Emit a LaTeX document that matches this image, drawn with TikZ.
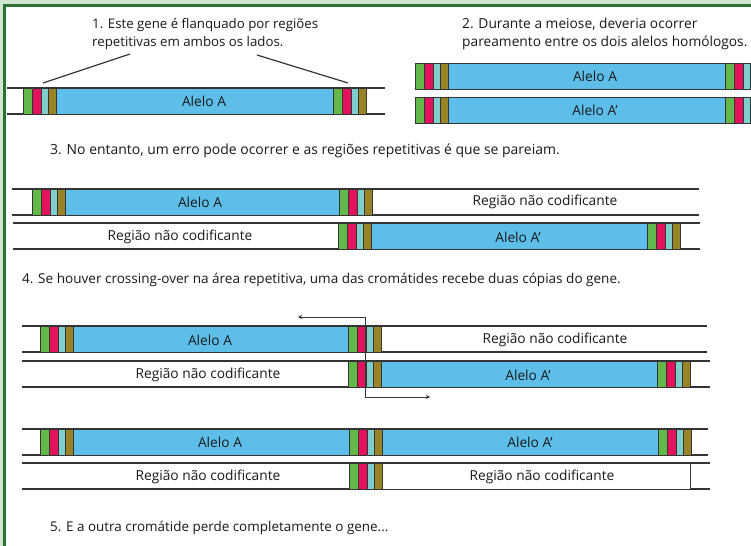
\documentclass[tikz,border=0pt]{standalone}
\usepackage{fontspec}
\setmainfont{Open Sans}
\usetikzlibrary{arrows.meta}
\definecolor{frgreen}{RGB}{44,110,52}
\definecolor{frlight}{RGB}{208,229,208}
\definecolor{gnblue}{RGB}{94,190,234}
\definecolor{rpgreen}{RGB}{98,184,72}
\definecolor{rppink}{RGB}{226,18,92}
\definecolor{rpcyan}{RGB}{126,206,206}
\definecolor{rpolive}{RGB}{152,132,38}
\definecolor{lnedge}{RGB}{52,52,52}
\tikzset{
  strand/.style={draw=lnedge, line width=1.1pt},
  genebox/.style={draw=lnedge, fill=gnblue, line width=0.9pt},
  gapbox/.style={draw=lnedge, fill=white, line width=0.9pt},
  genelabel/.style={font=\fontsize{13.8}{15}\selectfont, text=black!90, inner sep=0pt},
  steptext/.style={font=\fontsize{13.3}{18}\selectfont, text=black!90, anchor=west,
    align=left, inner sep=0pt},
  pointer/.style={draw=lnedge, line width=1.2pt},
  xover/.style={{Stealth[length=4bp,width=4bp]}-{Stealth[length=4bp,width=4bp]},
    draw=lnedge, line width=0.8pt},
  repunit/.pic={
    \fill[rpgreen] (0,0) rectangle (9,26);
    \fill[rppink] (9,0) rectangle (18,26);
    \fill[rpcyan] (18,0) rectangle (25,26);
    \fill[rpolive] (25,0) rectangle (33,26);
    \draw[lnedge, line width=0.7pt] (0,0) rectangle (33,26)
      (9,0) -- (9,26) (18,0) -- (18,26) (25,0) -- (25,26);
  }
}
\begin{document}
\begin{tikzpicture}[x=1bp,y=-1bp]
  \useasboundingbox (0,0) rectangle (751,546);
  \fill[frlight] (0,0) rectangle (751,546);
  \fill[white] (6,7) rectangle (751,546);
  \draw[frgreen, line width=3bp] (4.5,546) -- (4.5,5.8) -- (751,5.8);
  \begin{scope}
  \clip (6,7) rectangle (751,546);

  % 1. gene flanqueado
  \node[steptext] (t1) at (92,34) {1. Este gene é flanquado por regiões\\repetitivas em ambos os lados.};
  \draw[strand] (7,88) -- (385,88) (7,114) -- (385,114);
  \draw[genebox] (56,88) rectangle (333,114);
  \pic at (23,88) {repunit};
  \pic at (333,88) {repunit};
  \node[genelabel] (g1) at (204,101) {Alelo A};
  \coordinate (p1a) at (130,54);
  \coordinate (p1b) at (43,83);
  \coordinate (p1c) at (257,55);
  \coordinate (p1d) at (348,83);
  \draw[pointer] (p1a) -- (p1b);
  \draw[pointer] (p1c) -- (p1d);

  % 2. pareamento normal
  \node[steptext, font=\fontsize{13.8}{18}\selectfont] (t2) at (462,34) {2. Durante a meiose, deveria ocorrer\\pareamento entre os dois alelos homólogos.};
  \foreach \yy/\lbl in {63/{Alelo A}, 97/{Alelo A'}}{
    \draw[genebox] (415,\yy) rectangle (760,\yy+26);
    \pic at (415,\yy) {repunit};
    \pic at (725,\yy) {repunit};
    \node[genelabel] at (595,\yy+13) {\lbl};
  }

  % 3. pareamento errado
  \node[steptext, font=\fontsize{14}{18}\selectfont] (t3) at (50,151) {3. No entanto, um erro pode ocorrer e as regiões repetitivas é que se pareiam.};
  \draw[strand] (12,189) -- (699,189) (12,215) -- (699,215);
  \draw[genebox] (65,189) rectangle (339,215);
  \pic at (32,189) {repunit};
  \pic at (339,189) {repunit};
  \node[genelabel] (g3a) at (200,202) {Alelo A};
  \node[genelabel] (g3b) at (545,202) {Região não codificante};
  \draw[strand] (13,223) -- (700,223) (13,249) -- (700,249);
  \draw[genebox] (371,223) rectangle (647,249);
  \pic at (338,223) {repunit};
  \pic at (647,223) {repunit};
  \node[genelabel] (g3c) at (180,237) {Região não codificante};
  \node[genelabel] (g3d) at (518,237) {Alelo A'};

  % 4. crossing-over
  \node[steptext, font=\fontsize{13.6}{18}\selectfont] (t4) at (22,280) {4. Se houver crossing-over na área repetitiva, uma das cromátides recebe duas cópias do gene.};
  \draw[strand] (22,326) -- (707,326) (22,352) -- (707,352);
  \draw[genebox] (73,326) rectangle (348,352);
  \pic at (40,326) {repunit};
  \pic at (348,326) {repunit};
  \node[genelabel] (g4a) at (210,340) {Alelo A};
  \node[genelabel] (g4b) at (555,340) {Região não codificante};
  \draw[strand] (22,361) -- (710,361) (22,387) -- (710,387);
  \draw[genebox] (381,361) rectangle (657,387);
  \pic at (348,361) {repunit};
  \pic at (657,361) {repunit};
  \node[genelabel] (g4c) at (208,375) {Região não codificante};
  \node[genelabel] (g4d) at (528,375) {Alelo A'};
  \coordinate (xa) at (298,317);
  \coordinate (xb) at (365,317);
  \coordinate (xc) at (365,397);
  \coordinate (xd) at (430,397);
  \draw[xover] (xa) -- (xb) -- (xc) -- (xd);

  % resultado
  \draw[strand] (22,429) -- (708,429) (22,455) -- (708,455);
  \draw[genebox] (73,429) rectangle (658,455);
  \pic at (40,429) {repunit};
  \pic at (349,429) {repunit};
  \pic at (658,429) {repunit};
  \node[genelabel] (g5a) at (220,442) {Alelo A};
  \node[genelabel] (g5b) at (530,442) {Alelo A'};
  \draw[strand] (22,463) -- (710,463) (22,489) -- (710,489);
  \draw[gapbox] (382,463) rectangle (690,489);
  \pic at (349,463) {repunit};
  \node[genelabel] (g5c) at (208,477) {Região não codificante};
  \node[genelabel] (g5d) at (542,477) {Região não codificante};
  \node[steptext, font=\fontsize{13.5}{18}\selectfont] (t5) at (50,528) {5. E a outra cromátide perde completamente o gene...};
  \end{scope}
\end{tikzpicture}
\end{document}
